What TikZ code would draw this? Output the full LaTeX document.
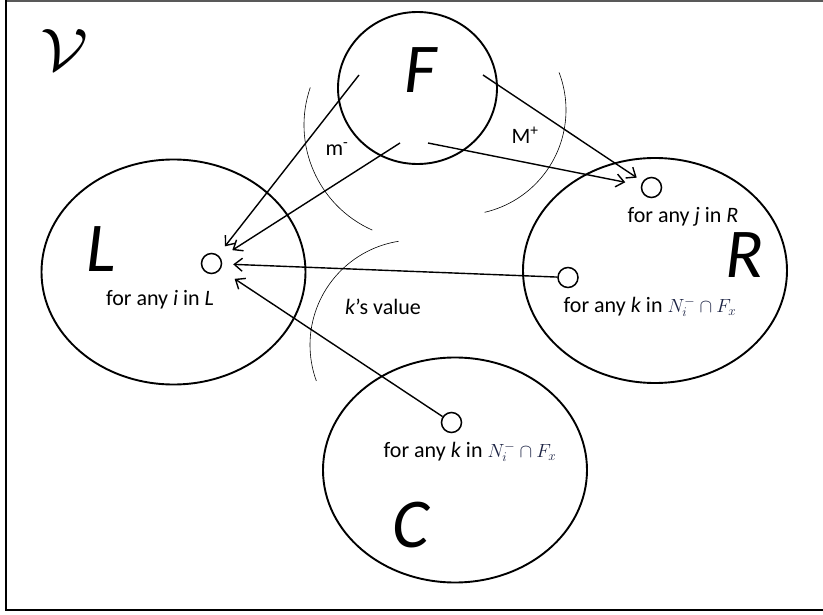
\RequirePackage{fix-cm}
\documentclass[tikz,border=0pt]{standalone}
\usepackage{fontspec}
\setmainfont{Carlito}
\usetikzlibrary{arrows.meta,shapes.geometric}
\definecolor{mathblue}{RGB}{25,32,65}
\newcommand{\setexpr}{\textcolor{mathblue}{\fontsize{19}{20}\selectfont$N_i^-\cap F_x$}}
\tikzset{
  set/.style={ellipse,draw,line width=1.9pt,minimum width=264pt,minimum height=225pt,inner sep=0pt},
  elem/.style={circle,draw,line width=1.5pt,minimum size=20pt,inner sep=0pt},
  big/.style={font=\fontsize{70}{70}\selectfont\itshape},
  lbl/.style={font=\fontsize{22}{24}\selectfont},
  arr/.style={line width=1.4pt,-{Straight Barb[length=8pt,width=13pt,line width=1.4pt]},shorten >=11pt},
  zone/.style={line width=0.6pt}
}
\begin{document}
\begin{tikzpicture}[x=1pt,y=-1pt]
  \useasboundingbox (0,0) rectangle (823,615);
  % frame
  \draw[gray!70!black,line width=1.5pt] (5,1) -- (823,1);
  \draw[line width=2pt] (6,0) -- (6,610) -- (823,610);
  \node[xscale=1.15] (V) at (64,50) {\fontsize{60}{60}\selectfont$\mathcal{V}$};
  % the four sets
  \node[set,minimum width=159pt,minimum height=152pt] (F) at (417.5,88) {};
  \node[set] (L) at (173.5,272) {};
  \node[set] (R) at (655,270.5) {};
  \node[set] (C) at (455,470) {};
  \node[big] (Fname) at (421,70) {F};
  \node[big] (Lname) at (101,249) {L};
  \node[big] (Rname) at (744,255) {R};
  \node[big] (Cname) at (411,525) {C};
  % zones (angles measured with y pointing down)
  \draw[zone] ([shift={(-161:115)}]419,125) arc (-161:-246:115);
  \draw[zone] ([shift={(-21:105)}]461,110) arc (-21:77:105);
  \draw[zone] ([shift={(-99:105)}]415,345) arc (-99:-200:105);
  \node[lbl] (mminus) at (337,149) {m\textsuperscript{-}};
  \node[lbl] (Mplus) at (525,135) {M\textsuperscript{+}};
  \node[lbl] (kval) at (383,307) {\textit{k}'s value};
  % elements
  \node[elem] (i) at (211.5,263.5) {};
  \node[elem] (j) at (651.5,187.5) {};
  \node[elem] (kR) at (568,277.5) {};
  \node[elem] (kC) at (451.5,422.5) {};
  \node[lbl] (ilbl) at (160,300) {for any \textit{i} in \textit{L}};
  \node[lbl] (jlbl) at (683,217) {for any \textit{j} in \textit{R}};
  \node[lbl] (kRlbl) at (650,307) {for any \textit{k} in \setexpr};
  \node[lbl] (kClbl) at (470,452) {for any \textit{k} in \setexpr};
  % arrows
  \coordinate (f1) at (359,75);
  \coordinate (f2) at (400,143);
  \coordinate (f3) at (483,75);
  \coordinate (f4) at (428,143);
  \draw[arr] (f1) -- (i);
  \draw[arr,shorten >=14pt] (f2) -- (i);
  \draw[arr,shorten >=7pt] (f3) -- (j);
  \draw[arr,shorten >=16pt] (f4) -- (j);
  \draw[arr] (kR) -- (i);
  \draw[arr,shorten >=17pt] (kC) -- (i);
\end{tikzpicture}
\end{document}
